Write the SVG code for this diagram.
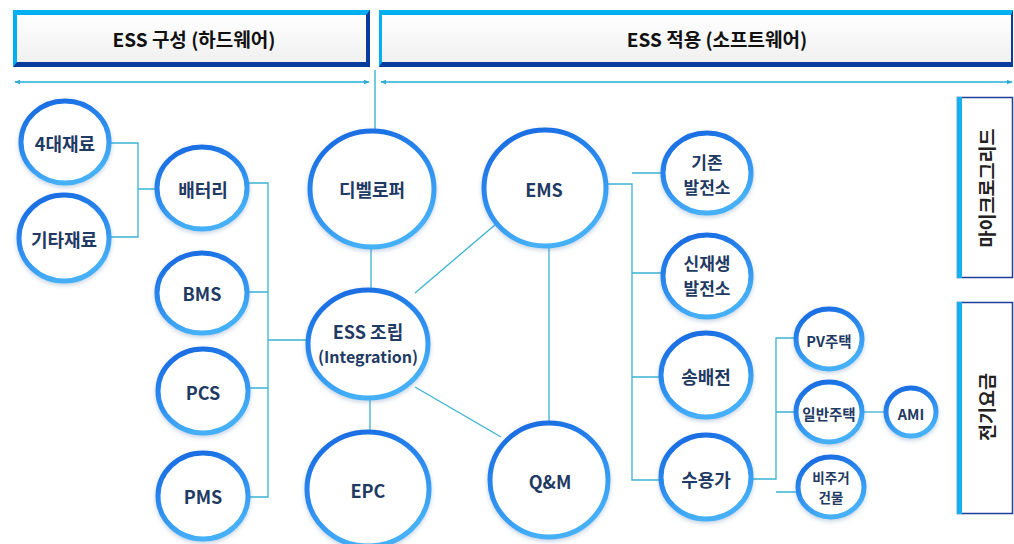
<svg xmlns="http://www.w3.org/2000/svg" width="1014" height="544" viewBox="0 0 1014 544">
<style>
.ring{fill:#fff;stroke:url(#ringGrad);stroke-width:5;filter:url(#shadow)}
.lbl{font-family:"Noto Sans CJK KR","Noto Sans",sans-serif;font-weight:700;fill:#1f3a63;text-anchor:middle;dominant-baseline:central;font-size:18px}
.two{font-size:17px}
.sm{font-size:14.5px}
.xs{font-size:13.5px}
.hdr{font-family:"Noto Sans CJK KR","Noto Sans",sans-serif;font-weight:700;fill:#111;text-anchor:middle;dominant-baseline:central;font-size:19px}
.side{font-size:18.5px;fill:#222}
.con{stroke:#3ab2d2;stroke-width:1.3;fill:none}
.arr{stroke:#2aaed0;stroke-width:1.3;fill:none}
</style>
<defs>
<linearGradient id="ringGrad" x1="0" y1="0" x2="0.4" y2="1">
<stop offset="0" stop-color="#1565df"/>
<stop offset="0.6" stop-color="#2e8ff0"/>
<stop offset="1" stop-color="#45b0f7"/>
</linearGradient>
<linearGradient id="boxFill" x1="0" y1="0" x2="0" y2="1">
<stop offset="0" stop-color="#ffffff"/>
<stop offset="1" stop-color="#f0f0f0"/>
</linearGradient>
<filter id="shadow" x="-20%" y="-20%" width="140%" height="150%">
<feDropShadow dx="0" dy="2" stdDeviation="2" flood-color="#5b7fb0" flood-opacity="0.35"/>
</filter>
<marker id="ah" viewBox="0 0 8 6" refX="7" refY="3" markerWidth="6" markerHeight="5" orient="auto-start-reverse" markerUnits="userSpaceOnUse">
<path d="M0,0 L8,3 L0,6 Z" fill="#2aaed0"/>
</marker>
</defs>

<!-- Headers -->
<g id="hdr-hw">
<polygon points="13,10 370,10 370,67 13,67" fill="#0a3c9e"/>
<polygon points="13,10 370,10 366,15 17,15 17,62 13,67" fill="#00b0f0"/>
<rect x="17" y="15" width="349" height="47" fill="url(#boxFill)"/>
<text class="hdr" x="194" y="38">ESS 구성 (하드웨어)</text>
</g>
<g id="hdr-sw">
<polygon points="379,10 1013,10 1013,67 379,67" fill="#0a3c9e"/>
<polygon points="379,10 1013,10 1011,15 382,15 382,62 379,67" fill="#00b0f0"/>
<rect x="382" y="15" width="629" height="47" fill="url(#boxFill)"/>
<text class="hdr" x="717" y="38">ESS 적용 (소프트웨어)</text>
</g>

<g id="side-mg">
<rect x="957.5" y="97.5" width="55" height="180" fill="#fff" stroke="#1d3f9b" stroke-width="1.5"/>
<rect x="957" y="97" width="5" height="181" fill="#14b1ef"/>
<text class="hdr side" transform="translate(986,188) rotate(-90)">마이크로그리드</text>
</g>
<g id="side-fee">
<rect x="957.5" y="302.5" width="55" height="211" fill="#fff" stroke="#1d3f9b" stroke-width="1.5"/>
<rect x="957" y="302" width="5" height="212" fill="#14b1ef"/>
<text class="hdr side" transform="translate(986,407) rotate(-90)">전기요금</text>
</g>

<!-- Connectors -->
<g id="connectors">
<line class="arr" x1="15" y1="82" x2="369" y2="82" marker-start="url(#ah)" marker-end="url(#ah)"/>
<line class="arr" x1="381" y1="82" x2="1012" y2="82" marker-start="url(#ah)" marker-end="url(#ah)"/>
<line class="arr" x1="375" y1="70" x2="375" y2="132"/>
<path class="con" d="M110,143 H138 V237 H110 M138,189 H157"/>
<path class="con" d="M248,183 H268 V497 H248 M248,292 H268 M249,388 H268 M268,340 H307"/>
<line class="con" x1="371" y1="247" x2="371" y2="290"/>
<line class="con" x1="370" y1="398" x2="370" y2="431"/>
<line class="con" x1="415" y1="293" x2="496" y2="224" stroke-width="1"/>
<line class="con" x1="415" y1="387" x2="501" y2="437" stroke-width="1"/>
<line class="con" x1="549" y1="246" x2="549" y2="422"/>
<path class="con" d="M607,184 H632 V480 H660 M632,173 H662 M632,273 H662 M632,377 H660"/>
<path class="con" d="M752,479 H776 V338 H795 M776,412 H795 M776,492 H797"/>
<line class="con" x1="863" y1="412" x2="885" y2="412"/>
</g>

<!-- Nodes -->
<g id="n-4mat"><ellipse class="ring" cx="65" cy="142" rx="44" ry="41"/><text class="lbl" x="65" y="143">4대재료</text></g>
<g id="n-etcmat"><ellipse class="ring" cx="64" cy="238" rx="45" ry="43"/><text class="lbl" x="64" y="239">기타재료</text></g>
<g id="n-battery"><ellipse class="ring" cx="202" cy="188" rx="45" ry="41"/><text class="lbl" x="203" y="189">배터리</text></g>
<g id="n-bms"><ellipse class="ring" cx="202" cy="293" rx="45" ry="40"/><text class="lbl" x="202" y="293">BMS</text></g>
<g id="n-pcs"><ellipse class="ring" cx="203" cy="391" rx="45" ry="42"/><text class="lbl" x="203" y="392">PCS</text></g>
<g id="n-pms"><ellipse class="ring" cx="203" cy="496" rx="45" ry="43"/><text class="lbl" x="203" y="496">PMS</text></g>
<g id="n-dev"><ellipse class="ring" cx="372" cy="189" rx="62" ry="58"/><text class="lbl" x="372" y="189">디벨로퍼</text></g>
<g id="n-ess"><ellipse class="ring" cx="368" cy="344" rx="60" ry="54"/><text class="lbl"><tspan x="368" y="331">ESS 조립</tspan><tspan x="368" y="356" font-size="16">(Integration)</tspan></text></g>
<g id="n-epc"><ellipse class="ring" cx="368" cy="489" rx="61" ry="57"/><text class="lbl" x="368" y="490">EPC</text></g>
<g id="n-ems"><ellipse class="ring" cx="545" cy="188" rx="61" ry="58"/><text class="lbl" x="544" y="189">EMS</text></g>
<g id="n-qm"><ellipse class="ring" cx="549" cy="480" rx="59" ry="57"/><text class="lbl" x="550" y="481">Q&amp;M</text></g>
<g id="n-exist"><ellipse class="ring" cx="707" cy="173" rx="44" ry="40"/><text class="lbl two"><tspan x="707" y="161">기존</tspan><tspan x="707" y="186">발전소</tspan></text></g>
<g id="n-renew"><ellipse class="ring" cx="707" cy="276" rx="44" ry="41"/><text class="lbl two"><tspan x="707" y="262">신재생</tspan><tspan x="707" y="287">발전소</tspan></text></g>
<g id="n-trans"><ellipse class="ring" cx="706" cy="375" rx="45" ry="42"/><text class="lbl" x="706" y="376">송배전</text></g>
<g id="n-consumer"><ellipse class="ring" cx="706" cy="477" rx="45" ry="42"/><text class="lbl" x="706" y="479">수용가</text></g>
<g id="n-pv"><ellipse class="ring" cx="829" cy="339" rx="33" ry="30"/><text class="lbl sm" x="829" y="340">PV주택</text></g>
<g id="n-house"><ellipse class="ring" cx="829" cy="412" rx="33" ry="30"/><text class="lbl sm" x="829" y="413">일반주택</text></g>
<g id="n-nonres"><ellipse class="ring" cx="831" cy="487" rx="33" ry="30"/><text class="lbl xs"><tspan x="831" y="477">비주거</tspan><tspan x="831" y="497">건물</tspan></text></g>
<g id="n-ami"><ellipse class="ring" cx="911" cy="412" rx="25" ry="24"/><text class="lbl sm" x="911" y="413">AMI</text></g>
</svg>
